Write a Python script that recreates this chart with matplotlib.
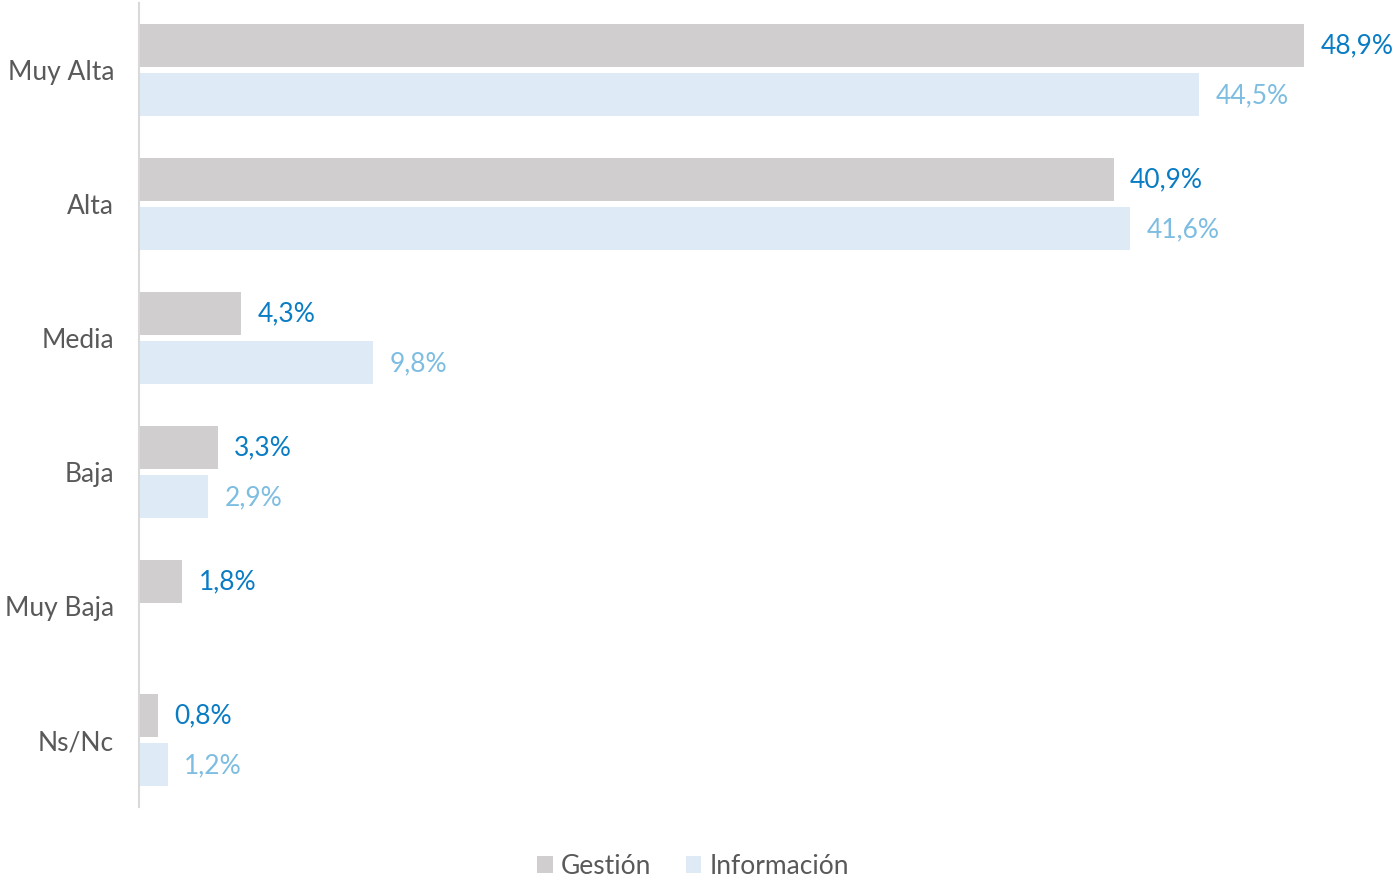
import numpy as np
import matplotlib.pyplot as plt

plt.rcParams['font.family'] = ['Lato', 'DejaVu Sans']

categorias = ["Muy Alta", "Alta", "Media", "Baja", "Muy Baja", "Ns/Nc"]
gestion = [48.9, 40.9, 4.3, 3.3, 1.8, 0.8]
informacion = [44.5, 41.6, 9.8, 2.9, None, 1.2]

c_gest = "#d0cecf"
c_info = "#deeaf6"
c_lab_gest = "#0a7cc4"
c_lab_info = "#7dbde2"
c_text = "#595959"

fig = plt.figure(figsize=(13.96, 8.8), dpi=100)
ax = fig.add_axes([139 / 1396, 1 - 807 / 880, 1239 / 1396, 804 / 880])

y = np.arange(len(categorias))
h = 0.32
off = 0.18

ax.barh(y - off, gestion, height=h, color=c_gest, label="Gestión")
info_vals = [v if v is not None else 0 for v in informacion]
ax.barh(y + off, info_vals, height=h, color=c_info, label="Información")

for i, v in enumerate(gestion):
    ax.text(v + 0.7, i - off, f"{v:.1f}%".replace(".", ","), color=c_lab_gest,
            fontsize=19, va="center", ha="left", clip_on=False)
for i, v in enumerate(informacion):
    if v is None:
        continue
    ax.text(v + 0.7, i + off + 0.015, f"{v:.1f}%".replace(".", ","), color=c_lab_info,
            fontsize=19, va="center", ha="left", clip_on=False)

ax.set_ylim(len(categorias) - 0.5, -0.5)
ax.set_xlim(0, 52)
ax.set_yticks(y)
ax.set_yticklabels(categorias, fontsize=19, color=c_text)
ax.tick_params(axis="y", length=0, pad=18)
ax.set_xticks([])

for s in ["top", "right", "bottom"]:
    ax.spines[s].set_visible(False)
ax.spines["left"].set_color("#d9d9d9")
ax.spines["left"].set_linewidth(1.5)

fig.legend(loc="center", bbox_to_anchor=(693 / 1396, 1 - 866 / 880), ncol=2,
           frameon=False, fontsize=19, handlelength=0.6, handleheight=0.6,
           handletextpad=0.3, columnspacing=1.3, labelcolor=c_text)

fig.savefig("out.png", dpi=100)
